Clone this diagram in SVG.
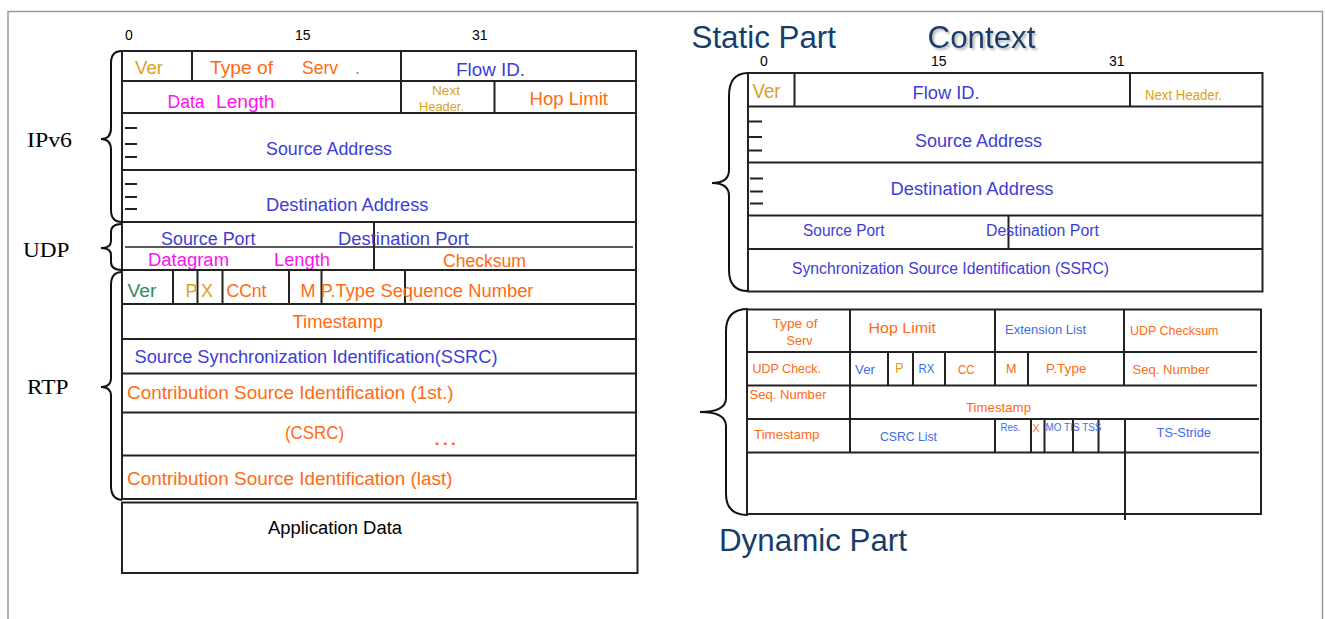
<svg xmlns="http://www.w3.org/2000/svg" width="1325" height="619" viewBox="0 0 1325 619">
<defs>
<style>
text{font-family:"Liberation Sans","DejaVu Sans",sans-serif;}
.ln{stroke:#222;stroke-width:2;fill:none;}
.lt{stroke:#222;stroke-width:1.5;fill:none;}
.br{stroke:#111;stroke-width:2;fill:none;}
.frame{stroke:#9a9a9a;stroke-width:1.5;fill:none;}
.num{font-size:14px;fill:#000;}
.lab{font-family:"Liberation Serif","DejaVu Serif",serif;font-size:22px;fill:#000;}
.gold{fill:#D9A21B;}
.or{fill:#FF6A12;}
.bl{fill:#3D3DD6;}
.bl2{fill:#3E6BE6;}
.mg{fill:#FF10F0;}
.gr{fill:#2E8B57;}
.title{font-size:31px;fill:#173D6B;}
</style>
<filter id="shadow" x="-10%" y="-20%" width="130%" height="150%">
<feDropShadow dx="2" dy="2" stdDeviation="0.8" flood-color="#b0b0b0" flood-opacity="0.9"/>
</filter>
</defs>
<rect width="1325" height="619" fill="#fff"/>
<g id="frame">
<path class="frame" d="M8,619 L8,11.5 L1322.5,11.5 L1322.5,619"/>
</g>

<g id="bit-scale-left">
<text class="num" x="125" y="40">0</text>
<text class="num" x="295" y="40">15</text>
<text class="num" x="472" y="40">31</text>
</g>

<g id="ipv6-header">
<text class="lab" x="27" y="147" textLength="45" lengthAdjust="spacingAndGlyphs">IPv6</text>
<rect class="ln" x="122" y="51" width="514" height="171"/>
<path class="ln" d="M122,81 H636 M122,113 H636 M122,170 H636"/>
<path class="ln" d="M192,51 V81 M401,51 V113 M494.5,81 V113"/>
<path class="ln" d="M125,128 H137 M125,144 H137 M125,157 H137 M125,184 H137 M125,197 H137 M125,209 H137"/>
<text class="gold" x="135" y="74" font-size="18" textLength="28" lengthAdjust="spacingAndGlyphs">Ver</text>
<text class="or" x="210" y="74" font-size="18" textLength="63" lengthAdjust="spacingAndGlyphs">Type of</text>
<text class="or" x="302" y="74" font-size="18" textLength="36" lengthAdjust="spacingAndGlyphs">Serv</text>
<text class="or" x="355" y="74" font-size="18">.</text>
<text class="bl" x="456" y="76" font-size="18" textLength="69" lengthAdjust="spacingAndGlyphs">Flow ID.</text>
<text class="mg" x="167.5" y="108" font-size="18" textLength="37" lengthAdjust="spacingAndGlyphs">Data</text>
<text class="mg" x="216" y="108" font-size="18" textLength="58.5" lengthAdjust="spacingAndGlyphs">Length</text>
<text class="gold" x="432" y="95" font-size="12" textLength="28" lengthAdjust="spacingAndGlyphs">Next</text>
<text class="gold" x="419" y="111" font-size="12" textLength="45" lengthAdjust="spacingAndGlyphs">Header.</text>
<text class="or" x="529.5" y="105" font-size="18" textLength="78.5" lengthAdjust="spacingAndGlyphs">Hop Limit</text>
<text class="bl" x="266" y="155" font-size="18" textLength="126" lengthAdjust="spacingAndGlyphs">Source Address</text>
<text class="bl" x="266" y="211" font-size="18" textLength="162.5" lengthAdjust="spacingAndGlyphs">Destination Address</text>
</g>

<g id="udp-header">
<text class="lab" x="23" y="257" textLength="46.5" lengthAdjust="spacingAndGlyphs">UDP</text>
<rect class="ln" x="122" y="222" width="514" height="48"/>
<path class="lt" d="M125,247 H633"/>
<path class="ln" d="M374,222 V270"/>
<text class="bl" x="161" y="245" font-size="18" textLength="94.5" lengthAdjust="spacingAndGlyphs">Source Port</text>
<text class="bl" x="338" y="245" font-size="18" textLength="131" lengthAdjust="spacingAndGlyphs">Destination Port</text>
<text class="mg" x="148" y="266" font-size="18" textLength="81" lengthAdjust="spacingAndGlyphs">Datagram</text>
<text class="mg" x="274" y="266" font-size="18" textLength="56" lengthAdjust="spacingAndGlyphs">Length</text>
<text class="or" x="443" y="267" font-size="18" textLength="83" lengthAdjust="spacingAndGlyphs">Checksum</text>
</g>

<g id="rtp-header">
<text class="lab" x="27" y="394" textLength="41.5" lengthAdjust="spacingAndGlyphs">RTP</text>
<rect class="ln" x="122" y="270" width="514" height="229"/>
<path class="ln" d="M122,304 H636 M122,339 H636 M122,373.5 H636 M122,412.5 H636 M122,455.5 H636"/>
<path class="ln" d="M173,270 V304 M197.5,270 V304 M222.5,270 V304 M289,270 V304 M321.5,270 V304 M405,270 V304"/>
<text class="gr" x="127.5" y="297" font-size="18" textLength="29" lengthAdjust="spacingAndGlyphs">Ver</text>
<text class="gold" x="185.5" y="297" font-size="18">P</text>
<text class="gold" x="201" y="297" font-size="18">X</text>
<text class="or" x="226.5" y="297" font-size="18" textLength="40" lengthAdjust="spacingAndGlyphs">CCnt</text>
<text class="or" x="300.5" y="297" font-size="18">M</text>
<text class="or" x="320.5" y="297" font-size="18" textLength="213" lengthAdjust="spacingAndGlyphs">P.Type Sequence Number</text>
<text class="or" x="292.5" y="328" font-size="18" textLength="90.5" lengthAdjust="spacingAndGlyphs">Timestamp</text>
<text class="bl" x="134.5" y="362.5" font-size="18" textLength="363" lengthAdjust="spacingAndGlyphs">Source Synchronization Identification(SSRC)</text>
<text class="or" x="127" y="398.5" font-size="18" textLength="326.5" lengthAdjust="spacingAndGlyphs">Contribution Source Identification (1st.)</text>
<text class="or" x="285" y="439" font-size="18" textLength="59" lengthAdjust="spacingAndGlyphs">(CSRC)</text>
<text class="or" x="433" y="445" font-size="22" textLength="24.5" lengthAdjust="spacingAndGlyphs">...</text>
<text class="or" x="127" y="485" font-size="18" textLength="325.5" lengthAdjust="spacingAndGlyphs">Contribution Source Identification (last)</text>
</g>

<g id="application-data">
<rect class="ln" x="122" y="502.5" width="515.5" height="70.5"/>
<text x="268" y="533.5" font-size="18" fill="#000" textLength="134" lengthAdjust="spacingAndGlyphs">Application Data</text>
</g>

<g id="titles">
<text class="title" x="691.5" y="47.5" textLength="144.5" lengthAdjust="spacingAndGlyphs">Static Part</text>
<text class="title" x="927.5" y="47.5" filter="url(#shadow)" textLength="108" lengthAdjust="spacingAndGlyphs">Context</text>
<text class="title" x="719" y="550.5" textLength="188" lengthAdjust="spacingAndGlyphs">Dynamic Part</text>
</g>

<g id="bit-scale-right">
<text class="num" x="760" y="65.5">0</text>
<text class="num" x="931" y="65.5">15</text>
<text class="num" x="1109" y="65.5">31</text>
</g>

<g id="static-part">
<rect class="ln" x="748" y="73" width="514.5" height="218.5"/>
<path class="ln" d="M748,106.5 H1262 M748,162.5 H1262 M748,215.5 H1262 M748,249 H1262"/>
<path class="ln" d="M794.5,73 V106.5 M1130,73 V106.5 M1008.5,215.5 V249"/>
<path class="ln" d="M749,121.5 H762 M749,137 H762 M749,150.5 H762 M750,178.5 H763 M750,191.5 H763 M750,203.5 H763"/>
<text class="gold" x="752.5" y="97.5" font-size="20" textLength="28" lengthAdjust="spacingAndGlyphs">Ver</text>
<text class="bl" x="912.5" y="99" font-size="18" textLength="67" lengthAdjust="spacingAndGlyphs">Flow ID.</text>
<text class="gold" x="1145" y="100" font-size="14" textLength="77" lengthAdjust="spacingAndGlyphs">Next Header.</text>
<text class="bl" x="915" y="147" font-size="18" textLength="127" lengthAdjust="spacingAndGlyphs">Source Address</text>
<text class="bl" x="890.5" y="195" font-size="18" textLength="163" lengthAdjust="spacingAndGlyphs">Destination Address</text>
<text class="bl" x="803" y="236" font-size="16" textLength="81.5" lengthAdjust="spacingAndGlyphs">Source Port</text>
<text class="bl" x="986" y="236" font-size="16" textLength="113" lengthAdjust="spacingAndGlyphs">Destination Port</text>
<text class="bl" x="792" y="274" font-size="16" textLength="317" lengthAdjust="spacingAndGlyphs">Synchronization Source Identification (SSRC)</text>
</g>

<g id="dynamic-part">
<rect class="ln" x="747" y="309.5" width="514" height="204.5"/>
<path class="ln" d="M747,352 H1257 M747,385.5 H1257 M747,419 H1259 M747,452.5 H1259"/>
<path class="ln" d="M850,309.5 V452.5 M995,309.5 V385.5 M1124,309.5 V385.5"/>
<path class="ln" d="M888,352 V385.5 M913,352 V385.5 M945,352 V385.5 M1028,352 V385.5"/>
<path class="ln" d="M995,419 V452.5 M1031,419 V452.5 M1044.5,419 V452.5 M1073,419 V452.5 M1098.5,419 V452.5 M1125,419 V520"/>
<text class="or" x="772.5" y="328" font-size="13" textLength="45" lengthAdjust="spacingAndGlyphs">Type of</text>
<text class="or" x="786.5" y="345" font-size="13" textLength="26" lengthAdjust="spacingAndGlyphs">Serv</text>
<text class="or" x="868.5" y="333" font-size="15" textLength="67.5" lengthAdjust="spacingAndGlyphs">Hop Limit</text>
<text class="bl2" x="1005" y="333.5" font-size="13" textLength="81" lengthAdjust="spacingAndGlyphs">Extension List</text>
<text class="or" x="1130" y="335" font-size="13" textLength="88.5" lengthAdjust="spacingAndGlyphs">UDP Checksum</text>
<text class="or" x="752.5" y="373" font-size="13" textLength="68.5" lengthAdjust="spacingAndGlyphs">UDP Check.</text>
<text class="bl2" x="855" y="374" font-size="13" textLength="20" lengthAdjust="spacingAndGlyphs">Ver</text>
<text class="gold" x="895" y="373" font-size="14" textLength="8.5" lengthAdjust="spacingAndGlyphs">P</text>
<text class="bl2" x="918.5" y="373" font-size="13" textLength="16" lengthAdjust="spacingAndGlyphs">RX</text>
<text class="or" x="958" y="374" font-size="13" textLength="16.5" lengthAdjust="spacingAndGlyphs">CC</text>
<text class="or" x="1006" y="373" font-size="13" textLength="10.5" lengthAdjust="spacingAndGlyphs">M</text>
<text class="or" x="1046" y="373" font-size="13" textLength="40.5" lengthAdjust="spacingAndGlyphs">P.Type</text>
<text class="or" x="1132.5" y="374" font-size="13" textLength="77" lengthAdjust="spacingAndGlyphs">Seq. Number</text>
<text class="or" x="749.5" y="399" font-size="13" textLength="77" lengthAdjust="spacingAndGlyphs">Seq. Number</text>
<text class="or" x="966" y="412" font-size="13" textLength="65" lengthAdjust="spacingAndGlyphs">Timestamp</text>
<text class="or" x="754" y="439" font-size="13" textLength="65.5" lengthAdjust="spacingAndGlyphs">Timestamp</text>
<text class="bl2" x="880" y="441" font-size="13" textLength="57" lengthAdjust="spacingAndGlyphs">CSRC List</text>
<text class="bl2" x="1000.5" y="431" font-size="10" textLength="20" lengthAdjust="spacingAndGlyphs">Res.</text>
<text class="or" x="1032.5" y="432" font-size="10" textLength="7" lengthAdjust="spacingAndGlyphs">X</text>
<text class="bl2" x="1045.5" y="431" font-size="10" textLength="56" lengthAdjust="spacingAndGlyphs">MO TIS TSS</text>
<text class="bl2" x="1156.5" y="437" font-size="13" textLength="54.5" lengthAdjust="spacingAndGlyphs">TS-Stride</text>
</g>

<g id="connectors">
<path class="br" d="M122,51 Q111,51 111,63 L111,128 Q111,139 101,139 Q111,139 111,150 L111,210 Q111,222 122,222"/>
<path class="br" d="M122,224 Q111,224 111,232 L111,241 Q111,248 101,248 Q111,248 111,255 L111,262 Q111,270 122,270"/>
<path class="br" d="M122,272 Q111,272 111,285 L111,378 Q111,387 101,387 Q111,387 111,396 L111,486 Q111,499 122,500"/>
<path class="br" d="M748,73 Q729,73 729,96 L729,170 Q729,183 712,183 Q729,183 729,196 L729,270 Q729,291 748,291"/>
<path class="br" d="M748,309 Q726,309 726,331 L726,398 Q726,412 700,412 Q726,412 726,426 L726,494 Q726,515 748,515"/>
</g>
</svg>
